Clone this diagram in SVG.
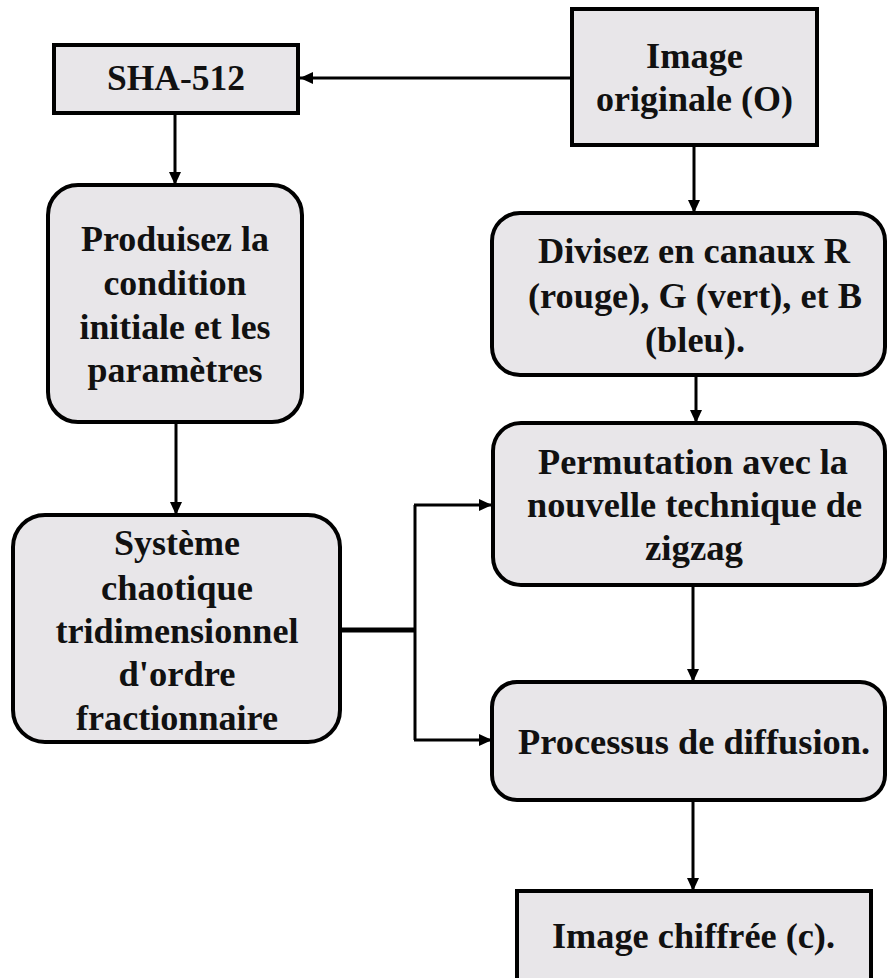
<svg xmlns="http://www.w3.org/2000/svg" width="887" height="978" viewBox="0 0 887 978">
  <defs>
    <marker id="arrow" markerUnits="userSpaceOnUse" markerWidth="13" markerHeight="12" refX="13" refY="6" orient="auto">
      <path d="M0,0 L13,6 L0,12 Z" fill="#000"/>
    </marker>
    <style>
      .box { fill: #e8e6e9; stroke: #000; stroke-width: 4; }
      text { font-family: "Liberation Serif", "Times New Roman", serif; font-weight: 700; font-size: 36px; fill: #111; text-anchor: middle; }
      .wire { fill: none; stroke: #000; stroke-width: 3; }
      .thick { stroke-width: 5; }
    </style>
  </defs>
  <rect width="887" height="978" fill="#fff"/>

  <!-- connectors -->
  <g id="connectors">
    <line class="wire" x1="572" y1="78" x2="300" y2="78" marker-end="url(#arrow)"/>
    <line class="wire" x1="175" y1="113" x2="175" y2="185" marker-end="url(#arrow)"/>
    <line class="wire" x1="694" y1="145" x2="694" y2="213" marker-end="url(#arrow)"/>
    <line class="wire" x1="176" y1="422" x2="176" y2="515" marker-end="url(#arrow)"/>
    <line class="wire" x1="696" y1="375" x2="696" y2="423" marker-end="url(#arrow)"/>
    <path class="wire thick" d="M340,630 H415"/>
    <path class="wire" d="M415,505 V740"/>
    <path class="wire" d="M414,505 H492" marker-end="url(#arrow)"/>
    <path class="wire" d="M414,740 H492" marker-end="url(#arrow)"/>
    <line class="wire" x1="693" y1="585" x2="693" y2="682" marker-end="url(#arrow)"/>
    <line class="wire" x1="693" y1="800" x2="693" y2="891" marker-end="url(#arrow)"/>
  </g>

  <g id="sha512">
    <rect class="box" x="54" y="45" width="244" height="68"/>
    <text x="176" y="90" textLength="138" lengthAdjust="spacingAndGlyphs">SHA-512</text>
  </g>

  <g id="image-originale">
    <rect class="box" x="572" y="9" width="245" height="136"/>
    <text x="694.5" y="68" textLength="97" lengthAdjust="spacingAndGlyphs">Image</text>
    <text x="694.5" y="111" textLength="197" lengthAdjust="spacingAndGlyphs">originale (O)</text>
  </g>

  <g id="produisez">
    <rect class="box" x="48" y="185" width="254" height="237" rx="30"/>
    <text x="175" y="251" textLength="188" lengthAdjust="spacingAndGlyphs">Produisez la</text>
    <text x="175" y="295" textLength="143" lengthAdjust="spacingAndGlyphs">condition</text>
    <text x="175" y="339" textLength="191" lengthAdjust="spacingAndGlyphs">initiale et les</text>
    <text x="175" y="382" textLength="175" lengthAdjust="spacingAndGlyphs">paramètres</text>
  </g>

  <g id="systeme">
    <rect class="box" x="13" y="515" width="327" height="227" rx="32"/>
    <text x="177" y="555" textLength="126" lengthAdjust="spacingAndGlyphs">Système</text>
    <text x="177" y="600" textLength="152" lengthAdjust="spacingAndGlyphs">chaotique</text>
    <text x="177" y="643" textLength="243" lengthAdjust="spacingAndGlyphs">tridimensionnel</text>
    <text x="177" y="686" textLength="117" lengthAdjust="spacingAndGlyphs">d'ordre</text>
    <text x="177" y="730" textLength="202" lengthAdjust="spacingAndGlyphs">fractionnaire</text>
  </g>

  <g id="divisez">
    <rect class="box" x="492" y="213" width="393" height="162" rx="28"/>
    <text x="694" y="263" textLength="312" lengthAdjust="spacingAndGlyphs">Divisez en canaux R</text>
    <text x="695" y="308" textLength="334" lengthAdjust="spacingAndGlyphs">(rouge), G (vert), et B</text>
    <text x="695" y="352" textLength="100" lengthAdjust="spacingAndGlyphs">(bleu).</text>
  </g>

  <g id="permutation">
    <rect class="box" x="493" y="423" width="392" height="162" rx="28"/>
    <text x="693" y="474" textLength="310" lengthAdjust="spacingAndGlyphs">Permutation avec la</text>
    <text x="694.5" y="517" textLength="335" lengthAdjust="spacingAndGlyphs">nouvelle technique de</text>
    <text x="694" y="560" textLength="98" lengthAdjust="spacingAndGlyphs">zigzag</text>
  </g>

  <g id="diffusion">
    <rect class="box" x="492" y="682" width="393" height="118" rx="25"/>
    <text x="694" y="754" textLength="352" lengthAdjust="spacingAndGlyphs">Processus de diffusion.</text>
  </g>

  <g id="image-chiffree">
    <rect class="box" x="517" y="891" width="354" height="100"/>
    <text x="693.5" y="948" textLength="283" lengthAdjust="spacingAndGlyphs">Image chiffrée (c).</text>
  </g>
</svg>
